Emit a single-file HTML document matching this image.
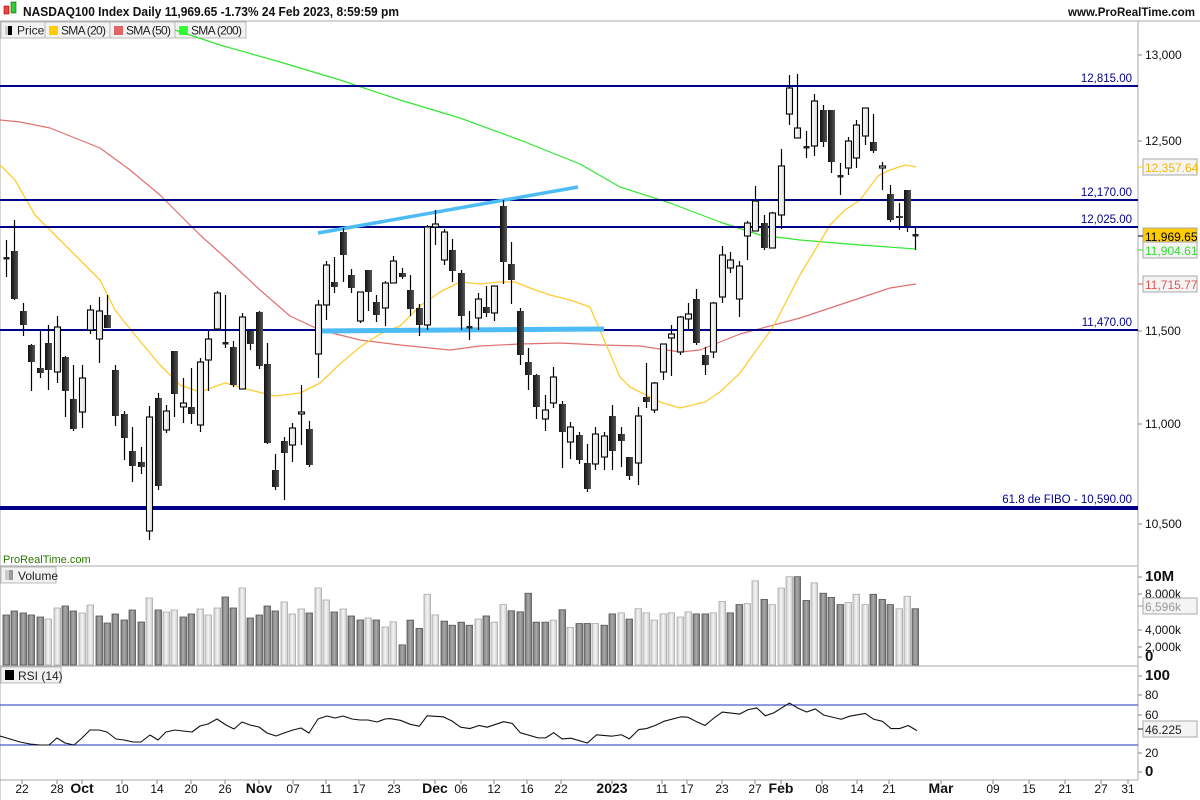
<!DOCTYPE html>
<html><head><meta charset="utf-8">
<style>
html,body{margin:0;padding:0;background:#fff;}
svg{display:block;font-family:"Liberation Sans","DejaVu Sans",sans-serif;}
</style></head>
<body>
<svg id="c" width="1200" height="800" viewBox="0 0 1200 800" xmlns="http://www.w3.org/2000/svg">
<defs>
<linearGradient id="blk" x1="0" x2="1"><stop offset="0" stop-color="#111"/><stop offset="1" stop-color="#555"/></linearGradient>
<linearGradient id="wht" x1="0" x2="1"><stop offset="0" stop-color="#fff"/><stop offset="1" stop-color="#ddd"/></linearGradient>
<linearGradient id="vd" x1="0" x2="1"><stop offset="0" stop-color="#777"/><stop offset="0.5" stop-color="#aaa"/><stop offset="1" stop-color="#777"/></linearGradient>
<linearGradient id="vl" x1="0" x2="1"><stop offset="0" stop-color="#ccc"/><stop offset="0.5" stop-color="#f4f4f4"/><stop offset="1" stop-color="#ccc"/></linearGradient>
</defs>
<rect width="1200" height="800" fill="#fff"/>
<rect x="4" y="6" width="5" height="8" fill="#e44" stroke="#900" stroke-width="0.6"/>
<rect x="11" y="2" width="5" height="11" fill="#3c3" stroke="#060" stroke-width="0.6"/>
<text x="23" y="16" font-size="13" font-weight="bold" fill="#111" textLength="376" lengthAdjust="spacingAndGlyphs">NASDAQ100 Index Daily 11,969.65 -1.73% 24 Feb 2023, 8:59:59 pm</text>
<text x="1068" y="16" font-size="12" font-weight="bold" fill="#111" textLength="127" lengthAdjust="spacingAndGlyphs">www.ProRealTime.com</text>
<line x1="0" y1="21" x2="1200" y2="21" stroke="#aaa"/>
<g font-size="12" fill="#222">
<rect x="1" y="22" width="44" height="16" fill="#f2f2f2" stroke="#bbb"/>
<rect x="5" y="26" width="3" height="9" fill="#ccc"/><rect x="8" y="26" width="4" height="9" fill="#000"/>
<text x="17" y="34.5">Price</text>
<rect x="45" y="22" width="65" height="16" fill="#f2f2f2" stroke="#bbb"/>
<rect x="49" y="26" width="9" height="9" fill="#fc0"/><text x="61" y="34.5" textLength="45">SMA (20)</text>
<rect x="110" y="22" width="65" height="16" fill="#f2f2f2" stroke="#bbb"/>
<rect x="114" y="26" width="9" height="9" fill="#e06666"/><text x="126" y="34.5" textLength="45">SMA (50)</text>
<rect x="175" y="22" width="71" height="16" fill="#f2f2f2" stroke="#bbb"/>
<rect x="179" y="26" width="9" height="9" fill="#3f3"/><text x="191" y="34.5" textLength="51">SMA (200)</text>
</g>
<line x1="1138" y1="21" x2="1138" y2="780" stroke="#aaa"/>
<line x1="0" y1="566" x2="1138" y2="566" stroke="#aaa"/>
<line x1="0" y1="666" x2="1138" y2="666" stroke="#aaa"/>
<line x1="0" y1="780" x2="1138" y2="780" stroke="#aaa"/>
<line x1="0" y1="21" x2="0" y2="800" stroke="#aaa"/>
<g id="main"></g>
<g id="vol"></g>
<g id="rsi"></g>
<g id="axis" font-size="12" fill="#111"></g>
</svg>
<script>
var NS="http://www.w3.org/2000/svg";
function el(p,t,a,txt){var e=document.createElementNS(NS,t);for(var k in a)e.setAttribute(k,a[k]);if(txt!==undefined)e.textContent=txt;p.appendChild(e);return e;}
var M=document.getElementById('main'),V=document.getElementById('vol'),R=document.getElementById('rsi'),A=document.getElementById('axis');
function X(i){return 6+8.42*i;}
function pl(g,pts,col,w){el(g,'polyline',{points:pts.map(function(p){return p.join(',')}).join(' '),fill:'none',stroke:col,'stroke-width':w||1.2,'stroke-linejoin':'round'});}
pl(M,[[175,30],[220,45],[280,62],[340,80],[400,100],[460,118],[520,140],[580,164],[620,187],[670,203],[720,222],[760,235],[800,240],[860,245],[916,249]],'#33e633',1.2);
pl(M,[[0,120],[20,122],[50,128],[80,140],[100,148],[130,170],[160,195],[200,235],[230,262],[260,290],[290,316],[320,330],[360,340],[400,345],[450,350],[480,346],[520,344],[560,343],[600,345],[640,346],[680,352],[700,350],[740,334],[800,318],[860,298],[890,288],[916,284]],'#e07070',1.2);
pl(M,[[0,165],[15,180],[35,215],[55,235],[80,260],[100,280],[115,310],[135,335],[160,365],[180,385],[200,392],[225,383],[250,390],[275,396],[300,393],[320,383],[340,364],[360,347],[380,334],[400,326],[420,306],[440,292],[460,282],[480,284],[500,282],[515,282],[530,288],[550,295],[570,300],[590,307],[620,377],[630,387],[660,402],[680,408],[705,402],[720,392],[740,373],[773,327],[800,275],[815,250],[830,225],[845,210],[860,200],[878,176],[890,170],[905,165],[916,167]],'#ffcc33',1.3);
var lv=[[86,'12,815.00',2],[200,'12,170.00',2],[227,'12,025.00',2],[330,'11,470.00',2],[508,'61.8 de FIBO  -  10,590.00',4]];
lv.forEach(function(l){el(M,'line',{x1:0,y1:l[0],x2:1138,y2:l[0],stroke:'#00008b','stroke-width':l[2]});el(M,'text',{x:1132,y:l[0]-(l[2]>2?5:4),'font-size':11.5,fill:'#00008b','text-anchor':'end'},l[1]);});
el(M,'line',{x1:318,y1:233,x2:578,y2:187,stroke:'#4dbbf5','stroke-width':3.5});
el(M,'line',{x1:318,y1:331,x2:604,y2:329,stroke:'#4dbbf5','stroke-width':5});
var C=[[258,258,240,277,2],[251,299,220,300,0],[311,325,303,336,0],[345,362,344,391,0],[368,373,331,378,0],[343,370,325,390,0],[327,372,316,383,1],[357,391,356,417,0],[399,429,365,431,0],[378,412,365,428,1],
[310,330,305,334,1],[311,339,297,363,1],[315,328,295,328,0],[370,416,365,426,0],[414,438,411,460,0],[451,466,427,482,0],[462,467,447,474,0],[417,531,406,540,1],[398,486,393,490,0],[411,430,405,433,1],
[351,394,351,417,0],[403,407,378,423,1],[407,414,368,424,0],[362,425,358,432,1],[339,360,331,391,1],[293,329,291,330,1],[343,343,295,348,2],[347,385,341,387,0],[317,389,313,389,1],[331,344,329,350,0],
[312,366,311,369,0],[364,443,343,444,0],[470,487,454,490,0],[441,453,437,500,0],[428,445,423,462,1],[412,414,385,445,1],[429,465,421,467,0],[305,354,300,378,1],[265,305,261,320,1],[282,287,257,293,0],
[232,255,228,282,0],[275,288,269,293,0],[292,321,292,323,1],[270,292,270,311,0],[302,315,295,322,0],[283,308,281,326,1],[261,283,256,283,1],[273,277,268,279,0],[290,309,275,316,0],[308,325,304,336,0],
[227,325,225,330,1],[224,227,210,245,1],[232,260,229,265,1],[250,271,239,282,0],[273,316,270,330,0],[327,327,311,340,2],[299,318,293,330,1],[307,313,286,317,0],[286,313,286,321,1],[206,262,200,284,0],
[264,280,242,304,0],[311,355,308,365,0],[362,375,348,390,0],[375,407,374,419,0],[410,419,395,431,1],[377,403,367,408,1],[404,432,401,468,0],[427,442,422,459,1],[435,460,432,464,0],[463,489,444,492,0],
[434,464,427,470,1],[436,457,432,470,1],[416,451,405,470,0],[434,441,427,467,0],[457,476,457,480,0],[416,463,407,485,1],[397,402,363,408,0],[383,410,382,413,1],[344,372,344,380,1],[334,338,325,376,1],
[317,352,316,355,1],[314,319,303,330,1],[299,343,289,345,0],[355,365,347,375,0],[303,352,302,358,1],[255,297,246,303,1],[260,268,252,273,1],[266,299,261,317,1],[223,236,221,260,1],[201,231,186,231,1],
[223,248,215,250,0],[213,248,212,248,1],[166,215,149,229,1],[88,114,75,125,1],[128,138,74,138,1],[147,147,131,158,2],[101,146,94,156,1],[110,142,105,147,0],[110,162,110,173,0],[176,176,163,195,2],
[141,168,137,175,1],[125,158,120,168,1],[108,136,108,145,1],[142,151,114,153,0],[166,168,162,190,1],[194,220,185,222,0],[216,218,203,230,0],[190,226,190,232,0],[235,235,226,250,2]];
C.forEach(function(c,i){var x=Math.round(X(i));
 el(M,'line',{x1:x+0.5,y1:c[2],x2:x+0.5,y2:c[3],stroke:'#000','stroke-width':1.2});
 if(c[4]==2){el(M,'rect',{x:x-2.5,y:c[0]-1,width:6,height:2.5,fill:'#222'});}
 else if(c[4]==1){el(M,'rect',{x:x-2.5,y:c[0],width:6,height:Math.max(2,c[1]-c[0]),fill:'url(#wht)',stroke:'#000','stroke-width':1.1});}
 else{el(M,'rect',{x:x-3,y:c[0],width:7,height:Math.max(2,c[1]-c[0]),fill:'url(#blk)'});}
});
var vt=[[615,0],[611,0],[613,0],[615,0],[617,0],[619,1],[608,1],[606,0],[611,0],[613,1],[605,1],[616,0],[623,0],[614,0],[620,0],[610,0],[622,0],[598,1],[610,0],[612,1],[610,1],[617,0],[614,0],[609,1],[615,1],[608,1],[597,0],[608,0],[588,1],[618,0],[615,0],[606,0],[611,0],[602,1],[614,1],[609,1],[613,0],[588,1],[600,1],[612,0],[609,1],[616,0],[620,0],[618,1],[620,0],[627,1]];
var z8=[[165,1],[232,0],[160,0],[184,0],[85,1],[145,1],[163,0],[175,0],[166,0],[175,0],[157,1],[148,0],[166,1],[115,1],[133,0],[136,0],[82,0],[166,0],[166,0],[160,1],[130,0],[181,1],[170,0],[170,0],[170,1],[175,0],[142,0],[139,1],[157,0],[127,1],[139,1],[160,1],[142,1],[139,1],[151,1],[136,1],[142,0],[142,0],[139,1],[106,1],[139,0],[115,0],[112,1],[46,1],[100,0],[115,1],[67,1],[34,1],[34,0],[103,0],[52,1],[82,0],[94,0],[115,0],[109,1],[85,1],[115,1],[85,0],[100,0],[115,0],[127,1],[91,1],[127,0]];
z8.forEach(function(v){vt.push([565+v[0]/2.904,v[1]]);});
vt.forEach(function(v,i){var x=Math.round(X(i));el(V,'rect',{x:x-3,y:v[0],width:6.5,height:665-v[0],fill:v[1]?'url(#vl)':'url(#vd)',stroke:v[1]?'#aaa':'#555','stroke-width':0.8});});
el(V,'rect',{x:1,y:567,width:55,height:16,fill:'#f2f2f2',stroke:'#bbb'});
el(V,'rect',{x:5,y:570,width:4,height:10,fill:'#ccc'});el(V,'rect',{x:9,y:570,width:4,height:10,fill:'#999'});
el(V,'text',{x:18,y:580,'font-size':12,fill:'#222'},'Volume');
el(V,'text',{x:3,y:563,'font-size':11,fill:'#2a7a00'},'ProRealTime.com');
el(R,'line',{x1:0,y1:705,x2:1138,y2:705,stroke:'#2233bb','stroke-width':1});
el(R,'line',{x1:0,y1:745,x2:1138,y2:745,stroke:'#2233bb','stroke-width':1});
var rp=[[0,736],[10,739],[20,742],[30,744],[40,745],[49,745],[57,738],[65,743],[74,745],[82,738],[90,730],[99,730],[107,732],[116,739],[124,740],[133,742],[141,742],[150,735],[158,740],[166,732],[175,730],[183,731],[192,732],[200,726],[208,724],[217,719],[226,725],[234,729],[242,722],[250,725],[259,727],[267,733],[276,736],[284,733],[293,730],[301,728],[309,733],[318,719],[327,716],[335,718],[343,716],[352,719],[360,720],[368,720],[377,722],[385,719]];
var z9=[[0,83],[30,88],[60,100],[85,105],[108,75],[155,78],[180,90],[205,108],[232,112],[258,103],[282,108],[330,92],[355,97],[378,124],[430,139],[452,139],[475,124],[500,142],[525,140],[573,154],[600,130],[645,134],[672,130],[695,142],[722,115],[745,112],[770,103],[795,91],[845,78],[865,79],[890,92],[915,103],[940,82],[965,64],[1015,70],[1040,57],[1065,52],[1090,75],[1115,66],[1160,38],[1185,53],[1210,64],[1235,55],[1260,73],[1310,85],[1335,76],[1380,68],[1405,85],[1430,91],[1455,112],[1480,112],[1505,103],[1530,118]];
z9.forEach(function(p){rp.push([390+p[0]/2.904,690+p[1]/2.904]);});
pl(R,rp,'#111',1.1);
el(R,'rect',{x:1,y:667,width:60,height:16,fill:'#f2f2f2',stroke:'#bbb'});
el(R,'rect',{x:5,y:670,width:9,height:10,fill:'#000'});
el(R,'text',{x:18,y:680,'font-size':12,fill:'#222'},'RSI (14)');
function tk(y,t,b){el(A,'line',{x1:1138,y1:y,x2:1142,y2:y,stroke:'#888'});el(A,'text',{x:1145,y:y+4,'font-size':b?15:12,'font-weight':b?'bold':'normal'},t);}
tk(55,'13,000');tk(141,'12,500');tk(331,'11,500');tk(424,'11,000');tk(524,'10,500');
tk(577,'10M',1);tk(594,'8,000k');tk(630,'4,000k');tk(647,'2,000k');tk(657,'0',1);
tk(676,'100',1);tk(695,'80');tk(715,'60');tk(753,'20');tk(772,'0',1);
function bx(y,t,col,bg){el(A,'rect',{x:1143,y:y-8,width:54,height:16,fill:bg||'#f4f4f4',stroke:'#aaa'});el(A,'line',{x1:1138,y1:y,x2:1143,y2:y,stroke:col});el(A,'text',{x:1145,y:y+5,'font-size':12,fill:col=='#fc0'?'#f5b800':col},t);}
bx(167,'12,357.64','#fc0');bx(236,'11,969.65','#000','#ffcc00');bx(250,'11,904.61','#33dd33');bx(284,'11,715.77','#e05555');
bx(606,'6,596k','#999');bx(729,'46.225','#222');
var dl=[[22,'22'],[57,'28'],[82,'Oct',1],[122,'10'],[157,'14'],[191,'20'],[225,'26'],[259,'Nov',1],[293,'07'],[326,'11'],[359,'17'],[394,'23'],[435,'Dec',1],[461,'06'],[494,'12'],[527,'16'],[561,'22'],[612,'2023',1],[662,'11'],[687,'17'],[722,'23'],[755,'27'],[781,'Feb',1],[822,'08'],[857,'14'],[889,'21'],[941,'Mar',1],[993,'09'],[1029,'15'],[1065,'21'],[1101,'27'],[1128,'31']];
dl.forEach(function(d){el(A,'line',{x1:d[0],y1:780,x2:d[0],y2:784,stroke:'#888'});el(A,'text',{x:d[0],y:793,'text-anchor':'middle','font-size':d[2]?14:12,'font-weight':d[2]?'bold':'normal'},d[1]);});
</script>
</body></html>
